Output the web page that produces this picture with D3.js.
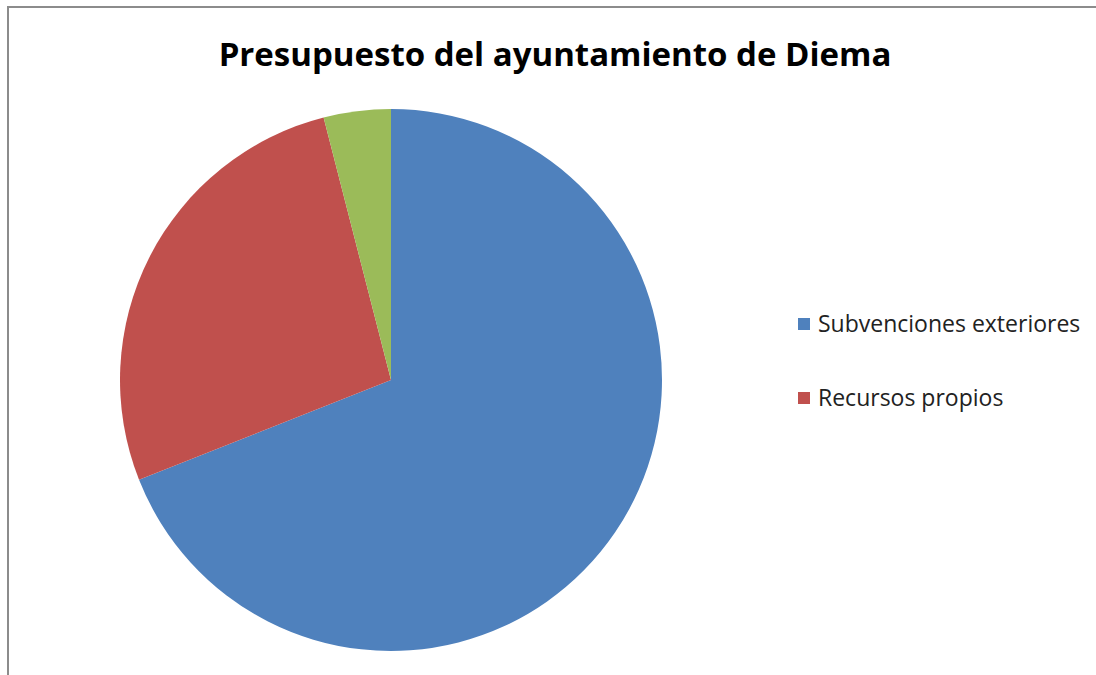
<!DOCTYPE html>
<html>
<head>
<meta charset="utf-8">
<script src="https://cdn.jsdelivr.net/npm/d3@7"></script>
<style>
  body { margin: 0; background: #fff; }
  svg { display: block; font-family: "Open Sans", "Noto Sans", sans-serif; }
</style>
</head>
<body>
<svg width="1096" height="675"></svg>
<script>
// data (shares, %)
const categories = ['Subvenciones exteriores', 'Recursos propios', 'Otros'];
const shares = [69, 27, 4];
const colors = ['#4f81bd', '#c0504d', '#9bbb59'];
const legendItems = ['Subvenciones exteriores', 'Recursos propios'];

const svg = d3.select('svg');

// frame (only top and left edges show)
svg.append('path')
    .attr('d', 'M8,675 L8,7 L1096,7')
    .attr('fill', 'none')
    .attr('stroke', '#8c8c8c')
    .attr('stroke-width', 2);

svg.append('text')
    .attr('x', 555)
    .attr('y', 66)
    .attr('text-anchor', 'middle')
    .style('font-size', '33px')
    .style('font-weight', 'bold')
    .text('Presupuesto del ayuntamiento de Diema');

const pie = d3.pie().sort(null).value(d => d);
const arc = d3.arc().innerRadius(0).outerRadius(271);

const g = svg.append('g')
    .attr('transform', 'translate(391,380)');

g.selectAll('path')
    .data(pie(shares))
    .join('path')
    .attr('d', arc)
    .attr('fill', (_d, i) => colors[i]);

const legend = svg.append('g')
    .attr('transform', 'translate(798,318)');

const item = legend.selectAll('g')
    .data(legendItems)
    .join('g')
    .attr('transform', (_d, i) => `translate(0,${i * 74})`);

item.append('rect')
    .attr('width', 12)
    .attr('height', 12)
    .attr('fill', (_d, i) => colors[i]);

item.append('text')
    .attr('x', 20)
    .attr('y', 14)
    .style('font-size', '23px')
    .attr('fill', '#222')
    .text(d => d);
</script>
</body>
</html>
